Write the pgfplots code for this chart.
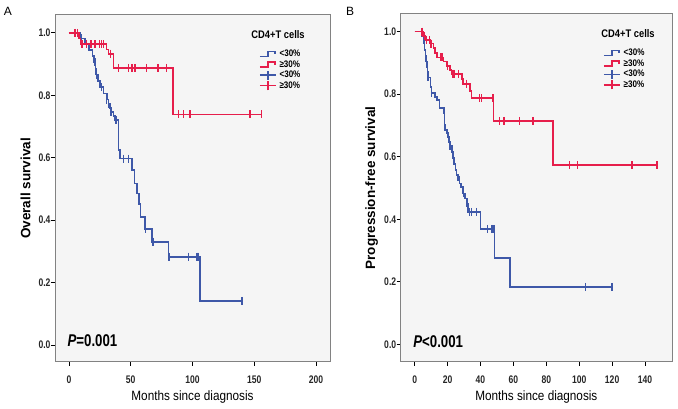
\documentclass[border=0pt]{standalone}
\usepackage{fontspec}
\setmainfont{Liberation Sans}
\newfontfamily\condf[FakeStretch=0.78]{Liberation Sans}
\newfontfamily\xlf[FakeStretch=0.87]{Liberation Sans}
\newfontfamily\legf[FakeStretch=0.85]{Liberation Sans}
\usepackage{pgfplots}
\pgfplotsset{compat=1.18}
\definecolor{kmblue}{RGB}{62,88,168}
\definecolor{kmred}{RGB}{230,30,75}
\definecolor{bgc}{RGB}{245,245,245}
\definecolor{framec}{RGB}{130,130,130}

\pgfplotsset{
  kmaxis/.style={
    scale only axis,
    axis background/.style={fill=bgc},
    axis line style={draw=framec, line width=1pt},
    tick align=outside, xtick pos=bottom, ytick pos=left,
    major tick length=4pt,
    tick style={black, line width=0.6pt},
    ytick={0,0.2,0.4,0.6,0.8,1.0},
    yticklabel style={xshift=3pt, /pgf/number format/.cd, fixed, fixed zerofill, precision=1},
    xticklabel style={yshift=-6pt},
    /pgf/number format/assume math mode=true,
    tick label style={font=\condf\bfseries\fontsize{11}{12}\selectfont, text=black!85},
    xlabel={Months since diagnosis},
    xlabel style={font=\xlf\fontsize{13.5}{15}\selectfont, at={(axis description cs:0.5,-0.1)}, anchor=center},
    ylabel style={font=\bfseries\fontsize{13.5}{15}\selectfont, at={(axis description cs:-0.107,0.5)}, anchor=center},
    legend style={draw=none, fill=none, font=\legf\bfseries\fontsize{9.5}{10}\selectfont, anchor=north west, inner sep=0pt, row sep=-1.5pt, column sep=1pt},
    legend cell align=left,
    clip=false,
  },
  bluestep/.style={legend image code/.code={
      \draw[kmblue, line width=1.3pt] (0pt,-2.5pt) -- (8pt,-2.5pt) -- (8pt,2.5pt) -- (15pt,2.5pt) -- (15pt,0pt);}},
  redstep/.style={legend image code/.code={
      \draw[kmred, line width=1.3pt] (0pt,-2.5pt) -- (8pt,-2.5pt) -- (8pt,2.5pt) -- (15pt,2.5pt) -- (15pt,0pt);}},
  bluecens/.style={legend image code/.code={
      \draw[kmblue, line width=1.3pt] (0pt,0pt) -- (16pt,0pt);
      \draw[kmblue, line width=1.3pt] (8pt,-4.5pt) -- (8pt,4.5pt);}},
  redcens/.style={legend image code/.code={
      \draw[kmred, line width=1.3pt] (0pt,0pt) -- (16pt,0pt);
      \draw[kmred, line width=1.3pt] (8pt,-4.5pt) -- (8pt,4.5pt);}},
  kmline/.style={const plot mark left, line width=1.6pt, mark=none},
  kmcens/.style={only marks, mark=|, mark size=4pt, mark options={line width=1.4pt}},
}

\begin{document}
\begin{tikzpicture}
\useasboundingbox (0pt,0pt) rectangle (678pt,409pt);
\node[font=\fontsize{12}{14}\selectfont] at (8pt,398pt) {A};
\node[font=\fontsize{12}{14}\selectfont] at (350pt,398pt) {B};

% ---------------- Panel A ----------------
\begin{axis}[kmaxis, at={(55pt,47pt)}, anchor=south west,
  width=275pt, height=347pt,
  xmin=-11.3, xmax=211.3, ymin=-0.054, ymax=1.057,
  xtick={0,50,100,150,200},
  ylabel={Overall survival},
  legend style={at={(rel axis cs:0.742,0.906)}},
]
\addplot[kmline, kmblue, bluestep] coordinates {
(0,1.0) (9,0.982) (13,0.963) (16,0.944) (19,0.925) (20.5,0.906) (21.5,0.886)
(22,0.866) (23.5,0.846) (25,0.826) (28,0.806) (31,0.786) (32,0.773) (33,0.760)
(34.5,0.747) (36,0.733) (37.5,0.720) (40,0.624) (41.5,0.597) (51,0.560)
(53,0.517) (55,0.485) (56.5,0.452) (58,0.410) (61.5,0.371) (67,0.331)
(80.5,0.283) (106,0.142) (140,0.142)};
\addlegendentry{<30\%}
\addplot[kmline, kmred, redstep] coordinates {
(0,1.0) (8,0.982) (9.5,0.964) (30.5,0.946) (32,0.933) (36,0.888) (84,0.739) (156,0.739)};
\addlegendentry{≥30\%}
\addplot[kmcens, kmblue, bluecens] coordinates {
(10,0.982) (21,0.906) (22.5,0.866) (26.5,0.826) (30.5,0.786) (32,0.773)
(34,0.747) (38,0.720) (44,0.597) (48,0.597) (62,0.371) (68,0.331)
(81,0.283) (97,0.283) (103.5,0.283) (105,0.283) (140,0.142)};
\addlegendentry{<30\%}
\addplot[kmcens, kmred, redcens] coordinates {
(5,1.0) (7,1.0) (10.5,0.964) (14,0.964) (18,0.964) (21,0.964) (24.5,0.964)
(26.5,0.964) (28,0.964) (33.5,0.933) (40,0.888) (48,0.888) (51,0.888)
(53.5,0.888) (63,0.888) (72,0.888) (79,0.888) (88.5,0.739) (92.5,0.739)
(98,0.739) (146.5,0.739) (156,0.739)};
\addlegendentry{≥30\%}
\node[font=\legf\bfseries\fontsize{11}{12}\selectfont] at (rel axis cs:0.811,0.943) {CD4+T cells};
\node[anchor=west, font=\condf\bfseries\fontsize{17}{20}\selectfont] at (axis cs:-4,0.013) {\textit{P}=0.001};
\end{axis}

% ---------------- Panel B ----------------
\begin{axis}[kmaxis, at={(400.7pt,47pt)}, anchor=south west,
  width=271.3pt, height=348pt,
  xmin=-8.5, xmax=156.4, ymin=-0.0566, ymax=1.0566,
  xtick={0,20,40,60,80,100,120,140},
  ylabel={Progression-free survival},
  legend style={at={(rel axis cs:0.746,0.906)}},
]
\addplot[kmline, kmblue, bluestep] coordinates {
(0,1.0) (4.5,0.984) (5.5,0.963) (6,0.941) (6.5,0.922) (7,0.904) (7.5,0.888)
(7.8,0.872) (8.5,0.854) (9.5,0.824) (10.1,0.803) (12.2,0.792) (13.6,0.781)
(15.2,0.755) (17.8,0.739) (18.2,0.703) (18.5,0.686) (19.5,0.675) (20.2,0.664)
(21,0.648) (21.7,0.635) (22.5,0.615) (23.3,0.595) (24,0.577) (24.7,0.558)
(25.5,0.542) (26.3,0.526) (27.2,0.515) (28,0.504) (29.4,0.483) (30.5,0.467)
(32,0.451) (32.4,0.424) (40.1,0.369) (48.6,0.277) (58.1,0.184) (120,0.184)};
\addlegendentry{<30\%}
\addplot[kmline, kmred, redstep] coordinates {
(0,1.0) (5,0.986) (6.5,0.974) (9.5,0.962) (11.5,0.947) (12.5,0.931) (13.5,0.918)
(17.5,0.904) (19.5,0.891) (21.3,0.877) (22.3,0.865) (28.6,0.849) (29.5,0.833)
(33.5,0.810) (34.5,0.787) (48,0.715) (84,0.573) (147,0.573)};
\addlegendentry{≥30\%}
\addplot[kmcens, kmblue, bluecens] coordinates {
(8,0.854) (10.3,0.803) (20.4,0.664) (21.5,0.635) (23.5,0.595) (27.1,0.526)
(29.5,0.483) (31.6,0.451) (33.4,0.424) (34.4,0.424) (37.4,0.424) (44.1,0.369)
(47,0.369) (48.2,0.369) (104,0.184) (120,0.184)};
\addlegendentry{<30\%}
\addplot[kmcens, kmred, redcens] coordinates {
(4.4,1.0) (6,0.986) (7,0.974) (9,0.974) (10,0.962) (16,0.918) (17,0.918)
(20,0.891) (23.3,0.865) (24.2,0.865) (26.5,0.865) (31.5,0.833) (39.5,0.787)
(40.5,0.787) (47.5,0.787) (51.7,0.715) (54.3,0.715) (63.8,0.715) (71.9,0.715)
(94.2,0.573) (98.8,0.573) (132,0.573) (147.3,0.573)};
\addlegendentry{≥30\%}
\node[font=\legf\bfseries\fontsize{11}{12}\selectfont] at (rel axis cs:0.838,0.945) {CD4+T cells};
\node[anchor=west, font=\condf\bfseries\fontsize{17}{20}\selectfont] at (axis cs:-3,0.009) {\textit{P}<0.001};
\end{axis}
\end{tikzpicture}
\end{document}
